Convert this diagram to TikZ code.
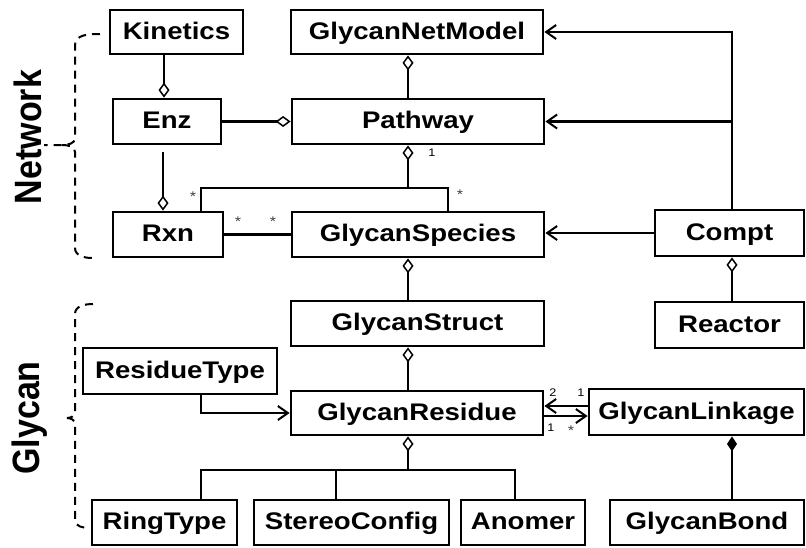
\documentclass[tikz,border=0pt]{standalone}
\usepackage{fontspec}
\setmainfont{Liberation Sans}[FakeStretch=1.15]
\newfontfamily\sidefont{Liberation Sans}
\usetikzlibrary{arrows.meta}
\begin{document}
\begin{tikzpicture}[x=1pt,y=-1pt,
  box/.style={draw, line width=2.8pt, inner sep=0pt, minimum height=45pt,
    text height=17pt, text depth=3pt,
    font=\fontsize{24}{24}\selectfont\bfseries},
  link/.style={line width=2.8pt},
  aggend/.style={link, -{Diamond[fill=white, length=15pt, width=11pt, line width=1.5pt]}},
  aggstart/.style={link, {Diamond[fill=white, length=15pt, width=11pt, line width=1.5pt]}-},
  compstart/.style={link, {Diamond[length=15pt, width=10pt, line width=1.5pt]}-},
  arr/.style={link, -{Straight Barb[length=10pt, width=14pt, line width=2pt]}},
  mult/.style={font=\fontsize{11}{11}\selectfont, inner sep=0pt},
  star/.style={mult, font=\fontsize{14}{14}\selectfont, text=black!75},
  brace/.style={line width=2pt, dash pattern=on 8pt off 6pt},
  side/.style={rotate=90, inner sep=0pt, font=\fontsize{34}{34}\sidefont\bfseries}
]
\useasboundingbox (0,0) rectangle (806,547);

% ---------- boxes ----------
\node[box, minimum width=133pt, minimum height=44pt] (kin) at (176.5,32) {Kinetics};
\node[box, minimum width=252pt, minimum height=44pt] (gnm) at (417,32) {GlycanNetModel};
\node[box, minimum width=108pt] (enz) at (167,121.5) {Enz};
\node[box, minimum width=252pt] (path) at (418,121.5) {Pathway};
\node[box, minimum width=110pt] (rxn) at (168,234.5) {Rxn};
\node[box, minimum width=252pt] (gsp) at (418,234.5) {GlycanSpecies};
\node[box, minimum width=149pt, minimum height=46pt] (compt) at (729.5,233) {Compt};
\node[box, minimum width=253pt] (gst) at (417.5,323.5) {GlycanStruct};
\node[box, minimum width=149pt, minimum height=46pt] (reac) at (729.5,325) {Reactor};
\node[box, minimum width=194pt, minimum height=46pt] (rtype) at (180,371) {ResidueType};
\node[box, minimum width=252pt, minimum height=44pt] (gres) at (417,413) {GlycanResidue};
\node[box, minimum width=215pt, minimum height=46pt] (glink) at (696.5,412) {GlycanLinkage};
\node[box, minimum width=145pt] (ring) at (164.5,522.5) {RingType};
\node[box, minimum width=195pt] (stereo) at (351.5,522.5) {StereoConfig};
\node[box, minimum width=124pt] (anom) at (523,522.5) {Anomer};
\node[box, minimum width=194pt] (gbond) at (707,522.5) {GlycanBond};

% ---------- helper coordinates ----------
\coordinate (vx) at (408,0);
\coordinate (vc) at (732,0);
\coordinate (b1) at (201,188);
\coordinate (b2) at (448,188);
\coordinate (c1) at (201,470);
\coordinate (c2) at (336,470);
\coordinate (c3) at (515,470);
\coordinate (ek) at (164,0);

% ---------- network part ----------
\draw[aggend] (kin.south -| ek) -- (enz.north -| ek);
\draw[aggend] (enz.east) -- (path.west);
\draw[aggend] ([yshift=-7pt]enz.south -| 163,0) -- (rxn.north -| 163,0);
\draw[aggstart] (gnm.south -| vx) -- (path.north -| vx);
\draw[aggstart] (path.south -| vx) -- (vx |- b1);
\draw[link] (rxn.north -| b1) -- (b1) -- (b2) -- (gsp.north -| b2);
\draw[link] (rxn.east) -- (gsp.west);
\node[mult] (m1) at (432,153) {1};
\node[star] (s1) at (193,197) {*};
\node[star] (s2) at (460,195) {*};
\node[star] (s3) at (238,222) {*};
\node[star] (s4) at (273,222) {*};

\draw[arr] (compt.west) -- (compt.west -| gsp.east);
\draw[arr] (compt.north -| vc) |- (gnm.east);
\draw[arr] (vc |- path.east) -- (path.east);
\draw[aggstart] (compt.south -| vc) -- (reac.north -| vc);

% ---------- glycan part ----------
\draw[aggstart] (gsp.south -| vx) -- (gst.north -| vx);
\draw[aggstart] (gst.south -| vx) -- (gres.north -| vx);
\draw[arr] (rtype.south -| b1) |- (gres.west);
\draw[arr] (glink.west |- 0,406) -- (gres.east |- 0,406);
\draw[arr] (gres.east |- 0,416) -- (glink.west |- 0,416);
\node[mult] (m2) at (553,393) {2};
\node[mult] (m3) at (581,393) {1};
\node[mult] (m4) at (551,428) {1};
\node[star] (s5) at (571,431) {*};

\draw[aggstart] (gres.south -| vx) -- (vx |- c1);
\draw[link] (ring.north -| c1) -- (c1) -- (c3) -- (anom.north -| c3);
\draw[link] (c2) -- (stereo.north -| c2);
\draw[compstart] (glink.south -| vc) -- (gbond.north -| vc);

% ---------- side braces ----------
\draw[brace] (100,34) to[out=180,in=90] (75,45) -- (75,138) to[out=270,in=0] (62,145) -- (44,145);
\draw[brace] (62,145) to[out=0,in=90] (75,152) -- (75,248) to[out=270,in=180] (92,258);
\node[side] (net) at (28,137) {\scalebox{1}[1.12]{Network}};

\draw[brace] (93,304) to[out=180,in=90] (75,314) -- (75,412) to[out=270,in=0] (67,418);
\draw[brace] (67,418) to[out=0,in=90] (75,424) -- (75,520) to[out=270,in=180] (90,528);
\node[side] (gly) at (30,418) {\scalebox{1}[1.12]{Glycan}};
\end{tikzpicture}
\end{document}
